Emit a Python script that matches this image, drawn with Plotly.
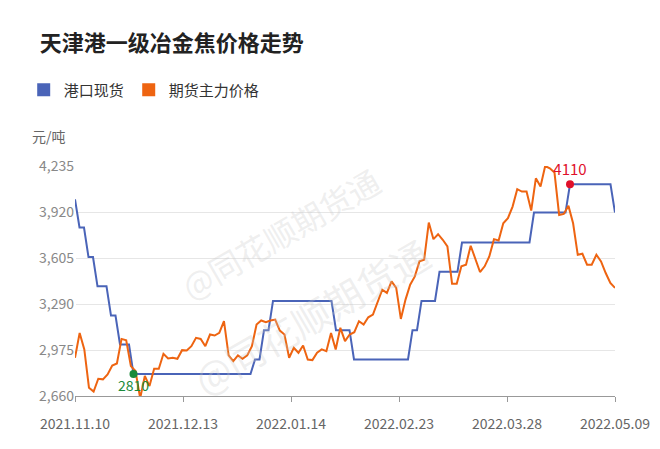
import plotly.graph_objects as go
import numpy as np

tick_labels = ["2021.11.10", "2021.12.13", "2022.01.14", "2022.02.23", "2022.03.28", "2022.05.09"]
tick_pos = [0, 24, 48, 72, 96, 120]
y_ticks = [2660, 2975, 3290, 3605, 3920, 4235]

blue_levels = [(0, 4007), (1, 3814), (3, 3611), (5, 3411), (8, 3211), (10, 3013), (13, 2810),
               (40, 2910), (42, 3111), (44, 3311), (58, 3111), (62, 2910), (75, 3111), (77, 3311),
               (81, 3511), (86, 3711), (102, 3916), (110, 4110), (120, 3916)]
spot = []
for i in range(121):
    v = None
    for s, val in blue_levels:
        if i >= s:
            v = val
    spot.append(v)

futures = [2922, 3092, 2979, 2717, 2690, 2778, 2774, 2808, 2869, 2883, 3051, 3042, 2865, 2831, 2645,
           2797, 2728, 2847, 2847, 2949, 2917, 2922, 2915, 2974, 2972, 3001, 3058, 3051, 3001, 3081,
           3074, 3092, 3172, 2938, 2899, 2938, 2915, 2938, 3001, 3149, 3177, 3165, 3177, 3183, 3108,
           3081, 2922, 2990, 2956, 3006, 2910, 2906, 2956, 2979, 2967, 3092, 2979, 3127, 3036, 3081,
           3097, 3172, 3149, 3199, 3218, 3297, 3388, 3366, 3445, 3400, 3188, 3320, 3422, 3479, 3582,
           3593, 3848, 3734, 3768, 3730, 3684, 3429, 3429, 3548, 3559, 3689, 3598, 3509, 3548, 3616,
           3734, 3725, 3843, 3878, 3957, 4076, 4060, 4060, 3930, 4151, 4094, 4235, 4219, 4190, 3900,
           3907, 3962, 3843, 3627, 3634, 3559, 3559, 3627, 3582, 3502, 3434, 3400]
fx = np.linspace(0, 120, len(futures))

font = "Noto Sans CJK SC"
BLUE, ORANGE = "#4a64b8", "#ee6411"
fig = go.Figure()
fig.add_trace(go.Scatter(x=list(range(121)), y=spot, mode="lines", showlegend=False,
                         line=dict(color=BLUE, width=2)))
fig.add_trace(go.Scatter(x=fx, y=futures, mode="lines", showlegend=False,
                         line=dict(color=ORANGE, width=2)))
for name, c in [("港口现货", BLUE), ("期货主力价格", ORANGE)]:
    fig.add_trace(go.Scatter(x=[None], y=[None], mode="markers", name=name,
                             marker=dict(color=c, size=13, symbol="square")))
fig.add_trace(go.Scatter(x=[13], y=[spot[13]], mode="markers+text", text=["2810"], textposition="bottom center",
                         textfont=dict(color="#1a8a3a", size=14, family=font),
                         marker=dict(color="#1a8a3a", size=8), showlegend=False, cliponaxis=False))
fig.add_trace(go.Scatter(x=[110], y=[spot[110]], mode="markers+text", text=["4110"], textposition="top center",
                         textfont=dict(color="#e0102a", size=15, family=font),
                         marker=dict(color="#e0102a", size=8), showlegend=False, cliponaxis=False))

fig.update_layout(
    width=660, height=449, margin=dict(l=67, r=53, t=158, b=61, autoexpand=False),
    paper_bgcolor="white", plot_bgcolor="white",
    font=dict(family=font, color="#888"),
    title=dict(text="<b>天津港一级冶金焦价格走势</b>", x=0.048, xanchor="left", y=0.921, yanchor="middle",
               font=dict(size=22, color="#222", family=font)),
    legend=dict(orientation="h", x=-0.095, y=1.33, xanchor="left", yanchor="middle",
                font=dict(size=15, color="#333"), itemwidth=30),
    xaxis=dict(range=[0, 120], tickvals=tick_pos, ticktext=tick_labels, showgrid=False, automargin=False,
               showline=True, linecolor="#999", ticks="outside", tickcolor="#999", ticklen=5,
               ticklabelstandoff=10, tickfont=dict(size=14, color="#666")),
    yaxis=dict(range=[2660, 4235], tickvals=y_ticks, tickformat=",", gridcolor="#e6e6e6", automargin=False,
               zeroline=False, tickfont=dict(size=14, color="#888")),
    annotations=[dict(text="元/吨", x=0.0, y=1.183, xref="paper", yref="paper", xanchor="left",
                      xshift=-45, showarrow=False, font=dict(size=14, color="#666")),
                 dict(text="@同花顺期货通", x=0.38, y=1.05, xref="paper", yref="paper", showarrow=False,
                      textangle=-30, font=dict(size=32, color="rgba(200,200,200,0.3)")),
                 dict(text="@同花顺期货通", x=0.68, y=0.35, xref="paper", yref="paper", showarrow=False,
                      textangle=-30, font=dict(size=38, color="rgba(200,200,200,0.3)"))],
)
fig.write_html("out.html")
